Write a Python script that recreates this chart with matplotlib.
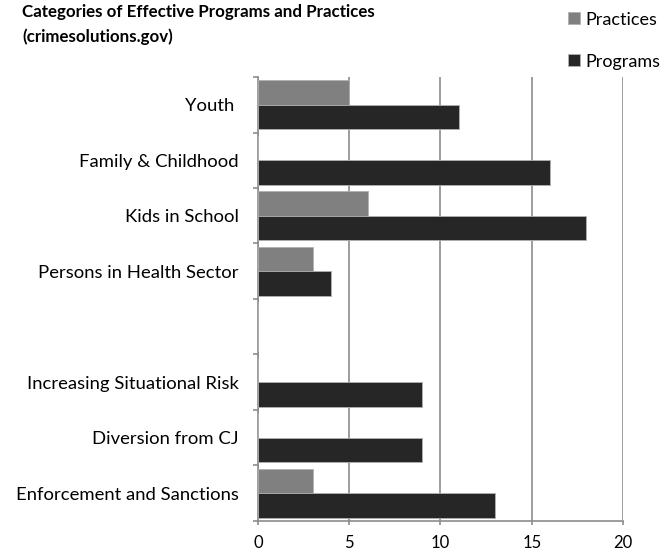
import matplotlib
matplotlib.use('Agg')
import matplotlib.pyplot as plt
import numpy as np

categories = ['Youth ', 'Family & Childhood', 'Kids in School', 'Persons in Health Sector',
              '', 'Increasing Situational Risk', 'Diversion from CJ', 'Enforcement and Sanctions']
practices = [5, 0, 6, 3, 0, 0, 0, 3]
programs = [11, 16, 18, 4, 0, 9, 9, 13]
xticks = [0, 5, 10, 15, 20]

plt.rcParams['font.family'] = ['Lato', 'DejaVu Sans']

fig = plt.figure(figsize=(6.72, 5.52), dpi=100)
ax = fig.add_axes([0.384, 0.0562, 0.543, 0.8043])

y = np.arange(len(categories))
h = 0.44
gridc = '#8c8c8c'
ax.barh(y - h / 2, practices, height=h, color='#808080', edgecolor='#b0b0b0', linewidth=0.6, zorder=3, label='Practices')
ax.barh(y + h / 2, programs, height=h, color='#262626', edgecolor='#b0b0b0', linewidth=0.6, zorder=3, label='Programs')

ax.set_xlim(0, 20)
ax.set_ylim(len(categories) - 0.5, -0.5)
ax.set_xticks(xticks)
ax.set_xticklabels([str(t) for t in xticks], fontsize=12)
ax.set_yticks(y)
ax.set_yticklabels(categories, fontsize=13.3)
ax.set_yticks(np.arange(len(categories) + 1) - 0.5, minor=True)
ax.tick_params(axis='y', which='major', length=0, pad=14)
ax.tick_params(axis='y', which='minor', length=3.5, color=gridc, width=1.2, direction='out')
ax.tick_params(axis='x', length=3, color=gridc, width=1.2, direction='out', pad=7)
ax.grid(axis='x', color=gridc, linewidth=1.2, zorder=0)
for s in ['top', 'right']:
    ax.spines[s].set_visible(False)
for s in ['left', 'bottom']:
    ax.spines[s].set_color(gridc)
    ax.spines[s].set_linewidth(1.2)

fig.text(0.033, 0.993, 'Categories of Effective Programs and Practices\n(crimesolutions.gov)',
         fontsize=12.2, fontweight='bold', va='top', ha='left', linespacing=1.6)

leg = fig.legend(loc='upper left', bbox_to_anchor=(0.845, 0.979), frameon=False, fontsize=13,
                 borderpad=0, borderaxespad=0,
                 handlelength=0.65, handleheight=0.65, handletextpad=0.3, labelspacing=1.45)

fig.savefig('out.png', dpi=100)
